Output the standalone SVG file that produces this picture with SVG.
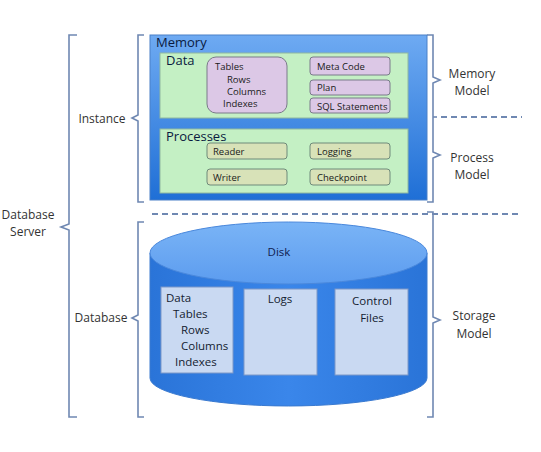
<svg xmlns="http://www.w3.org/2000/svg" width="541" height="452" viewBox="0 0 541 452">
<defs>
<linearGradient id="memG" x1="0" y1="0" x2="0" y2="1"><stop offset="0" stop-color="#6eaaf2"/><stop offset="1" stop-color="#1f6fd6"/></linearGradient>
<linearGradient id="cylG" x1="0" y1="0" x2="1" y2="0"><stop offset="0" stop-color="#2a74d8"/><stop offset="0.5" stop-color="#3a86ea"/><stop offset="1" stop-color="#2a74d8"/></linearGradient>
<linearGradient id="topG" x1="0" y1="0" x2="0" y2="1"><stop offset="0" stop-color="#7ab4f6"/><stop offset="1" stop-color="#5c9cef"/></linearGradient>
</defs>
<style>
text{font-family:"Open Sans","Noto Sans","Liberation Sans",sans-serif;fill:#1a1a1a}
.lbl{font-size:12px;fill:#333}
.t{font-size:11.5px;fill:#141c30}
.s{font-size:9.5px}
.h{font-size:13px;fill:#0a1a40}
.green{fill:#c4f0c4;stroke:#8fb8a0;stroke-width:1}
.lav{fill:#dcc8e6;stroke:#7a7a8a;stroke-width:1}
.tan{fill:#d8e2b8;stroke:#6f8a7a;stroke-width:1}
.inner{fill:#c9d9f2;stroke:#7d98c8;stroke-width:1}
.br{fill:none;stroke:#6f88b2;stroke-width:1.6}
.dash{fill:none;stroke:#6f88b2;stroke-width:1.8;stroke-dasharray:6,4}
</style>
<rect width="541" height="452" fill="#ffffff"/>

<g id="connectors">
<path class="br" d="M77,35 H69 V224 L61,227 L69,230 V417 H77"/>
<path class="br" d="M144,35 H138 V115 L132,118 L138,121 V202 H144"/>
<path class="br" d="M144,222 H138 V315 L132,318 L138,321 V417 H144"/>
<path class="br" d="M427,35 H433 V77 L440,80 L433,83 V152 L440,155 L433,158 V202 H427"/>
<path class="br" d="M433,117 H437"/>
<path class="br" d="M427,212 H433 V317 L440,320 L433,323 V417 H427"/>
<path class="dash" d="M441,117 H522"/>
<path class="dash" d="M152,214 H522"/>
</g>

<g id="labels">
<text class="lbl" x="28" y="219" text-anchor="middle">Database</text>
<text class="lbl" x="28" y="236" text-anchor="middle">Server</text>
<text class="lbl" x="102" y="123" text-anchor="middle">Instance</text>
<text class="lbl" x="101" y="322" text-anchor="middle">Database</text>
<text class="lbl" x="472" y="78" text-anchor="middle">Memory</text>
<text class="lbl" x="472" y="95" text-anchor="middle">Model</text>
<text class="lbl" x="472" y="162" text-anchor="middle">Process</text>
<text class="lbl" x="472" y="179" text-anchor="middle">Model</text>
<text class="lbl" x="474" y="320" text-anchor="middle">Storage</text>
<text class="lbl" x="474" y="338" text-anchor="middle">Model</text>
</g>

<g id="memory">
<rect x="150" y="35" width="277" height="165" fill="url(#memG)" stroke="#4a80c8"/>
<text class="h" x="156" y="47">Memory</text>
</g>
<g id="data">
<rect class="green" x="160" y="53" width="248" height="65"/>
<text class="h" x="166" y="65">Data</text>
</g>
<g id="tables">
<rect class="lav" x="207" y="57" width="80" height="56" rx="9"/>
<text class="s" x="215" y="70">Tables</text>
<text class="s" x="227" y="83">Rows</text>
<text class="s" x="227" y="95">Columns</text>
<text class="s" x="223" y="107">Indexes</text>
</g>
<g id="metacode"><rect class="lav" x="310" y="57" width="80" height="18" rx="3"/><text class="s" x="317" y="70">Meta Code</text></g>
<g id="plan"><rect class="lav" x="310" y="80" width="80" height="15" rx="3"/><text class="s" x="317" y="91">Plan</text></g>
<g id="sql"><rect class="lav" x="310" y="98" width="80" height="15" rx="3"/><text class="s" x="317" y="110">SQL Statements</text></g>
<g id="processes">
<rect class="green" x="160" y="129" width="248" height="64"/>
<text class="h" x="166" y="141">Processes</text>
</g>
<g id="reader"><rect class="tan" x="207" y="143" width="80" height="16" rx="3"/><text class="s" x="213" y="155">Reader</text></g>
<g id="logging"><rect class="tan" x="310" y="143" width="80" height="16" rx="3"/><text class="s" x="317" y="155">Logging</text></g>
<g id="writer"><rect class="tan" x="207" y="169" width="80" height="16" rx="3"/><text class="s" x="213" y="181">Writer</text></g>
<g id="checkpoint"><rect class="tan" x="310" y="169" width="80" height="16" rx="3"/><text class="s" x="317" y="181">Checkpoint</text></g>

<g id="disk">
<path d="M150,253 V378 A138.5,28 0 0 0 427,378 V253 Z" fill="url(#cylG)" stroke="#3a7ad0"/>
<ellipse cx="288.5" cy="253" rx="138.5" ry="31" fill="url(#topG)" stroke="#4a88dc"/>
<text class="t" x="279" y="256" text-anchor="middle" style="fill:#102050">Disk</text>
</g>
<g id="diskdata">
<rect class="inner" x="161" y="287" width="72" height="86"/>
<text class="t" x="166" y="302">Data</text>
<text class="t" x="173" y="318">Tables</text>
<text class="t" x="181" y="334">Rows</text>
<text class="t" x="181" y="350">Columns</text>
<text class="t" x="175" y="366">Indexes</text>
</g>
<g id="logs">
<rect class="inner" x="244" y="289" width="73" height="86"/>
<text class="t" x="280" y="303" text-anchor="middle">Logs</text>
</g>
<g id="control">
<rect class="inner" x="335" y="289" width="73" height="86"/>
<text class="t" x="372" y="305" text-anchor="middle">Control</text>
<text class="t" x="372" y="322" text-anchor="middle">Files</text>
</g>
</svg>
